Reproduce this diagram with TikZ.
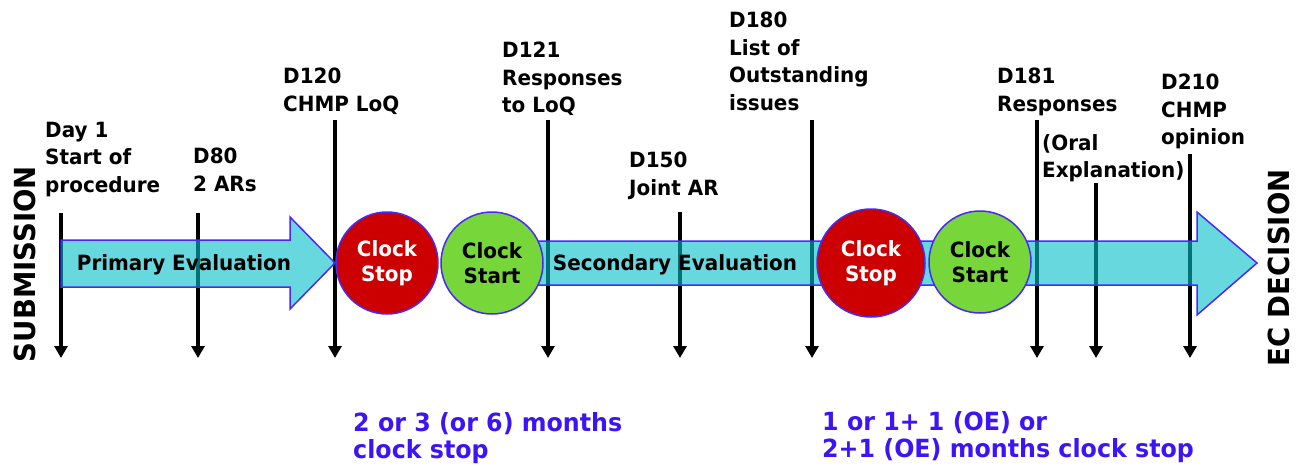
\documentclass[tikz,border=0pt]{standalone}
\usepackage{fontspec}
\setmainfont{DejaVu Sans}[FakeStretch=0.95]
\usetikzlibrary{arrows.meta}

\definecolor{flowfill}{RGB}{0,190,200}
\definecolor{edgeblue}{RGB}{72,40,250}
\definecolor{stopred}{RGB}{204,0,0}
\definecolor{startgreen}{RGB}{119,214,58}
\definecolor{notecolor}{RGB}{60,20,245}

\tikzset{
  lbl/.style={anchor=north west, inner sep=0pt, align=left,
    font=\fontsize{21}{27.7}\selectfont\bfseries},
  tick/.style={line width=4pt, -{Triangle[width=13pt,length=12pt]}},
  flow/.style={fill=flowfill, fill opacity=0.6, draw=edgeblue, line width=1.5pt},
  phase/.style={anchor=base, inner sep=0pt, font=\fontsize{21}{25}\selectfont\bfseries},
  clock/.style={circle, inner sep=0pt, draw=edgeblue, line width=1.5pt, align=center,
    font=\fontsize{21}{25}\selectfont\bfseries},
  clockstop/.style={clock, fill=stopred, text=white, minimum size=102pt},
  clockstart/.style={clock, fill=startgreen, text=black, minimum size=102pt},
  note/.style={anchor=north west, inner sep=0pt, align=left, text=notecolor,
    font=\fontsize{25}{27}\selectfont\bfseries},
  endlabel/.style={rotate=90, inner sep=0pt, font=\fontsize{29}{31}\selectfont\bfseries}
}

\begin{document}
\begin{tikzpicture}[x=1pt,y=-1pt]
\useasboundingbox (0,0) rectangle (1297,468);

% milestone markers: top and bottom ends
\coordinate (t1) at (61,213);   \coordinate (b1) at (61,358);
\coordinate (t2) at (198,213);  \coordinate (b2) at (198,358);
\coordinate (t3) at (335,120);  \coordinate (b3) at (335,358);
\coordinate (t4) at (548,120);  \coordinate (b4) at (548,358);
\coordinate (t5) at (680,212);  \coordinate (b5) at (680,358);
\coordinate (t6) at (812,120);  \coordinate (b6) at (812,358);
\coordinate (t7) at (1037,120); \coordinate (b7) at (1037,358);
\coordinate (t8) at (1096,183); \coordinate (b8) at (1096,358);
\coordinate (t9) at (1190,154); \coordinate (b9) at (1190,358);

\foreach \i in {1,...,9} \draw[tick] (t\i) -- (b\i);

% evaluation phases
\draw[flow] (61,240) -- (290,240) -- (290,217) -- (335,263) -- (290,309)
  -- (290,287) -- (61,287) -- cycle;
\draw[flow] (520,241) -- (1197,241) -- (1197,212) -- (1257,263) -- (1197,315)
  -- (1197,285) -- (520,285) -- cycle;

\node[phase] (primary) at (184,270) {Primary Evaluation};
\node[phase] (secondary) at (675,270) {Secondary Evaluation};

% clock stops and restarts
\node[clockstop]  (stop1)  at (387,263) {Clock\\Stop};
\node[clockstart] (start1) at (492,263) {Clock\\Start};
\node[clockstop, minimum size=108pt] (stop2) at (871,263) {Clock\\Stop};
\node[clockstart] (start2) at (980,262) {Clock\\Start};

% milestone labels
\node[lbl] (day1) at (45,121.7)  {Day 1\\Start of\\procedure};
\node[lbl] (d80)  at (193,147.7) {D80\\2 ARs};
\node[lbl] (d120) at (283,67.7)  {D120\\CHMP LoQ};
\node[lbl] (d121) at (502,41.7)  {D121\\Responses\\to LoQ};
\node[lbl] (d150) at (629,151.7) {D150\\Joint AR};
\node[lbl] (d180) at (729,11.7)  {D180\\List of\\Outstanding\\issues};
\node[lbl] (d181) at (997,67.7)  {D181\\Responses};
\node[lbl] (oral) at (1042,134)  {(Oral\\Explanation)};
\node[lbl] (d210) at (1161,73.7) {D210\\CHMP\\opinion};

% clock-stop durations
\node[note] (stopnote1) at (353,412.5) {2 or 3 (or 6) months\\clock stop};
\node[note] (stopnote2) at (822,411.5) {1 or 1+ 1 (OE) or\\2+1 (OE) months clock stop};

% start and end of the procedure
\node[endlabel] (submission) at (25,264) {SUBMISSION};
\node[endlabel] (ecdecision) at (1279,268) {EC DECISION};
\end{tikzpicture}
\end{document}
